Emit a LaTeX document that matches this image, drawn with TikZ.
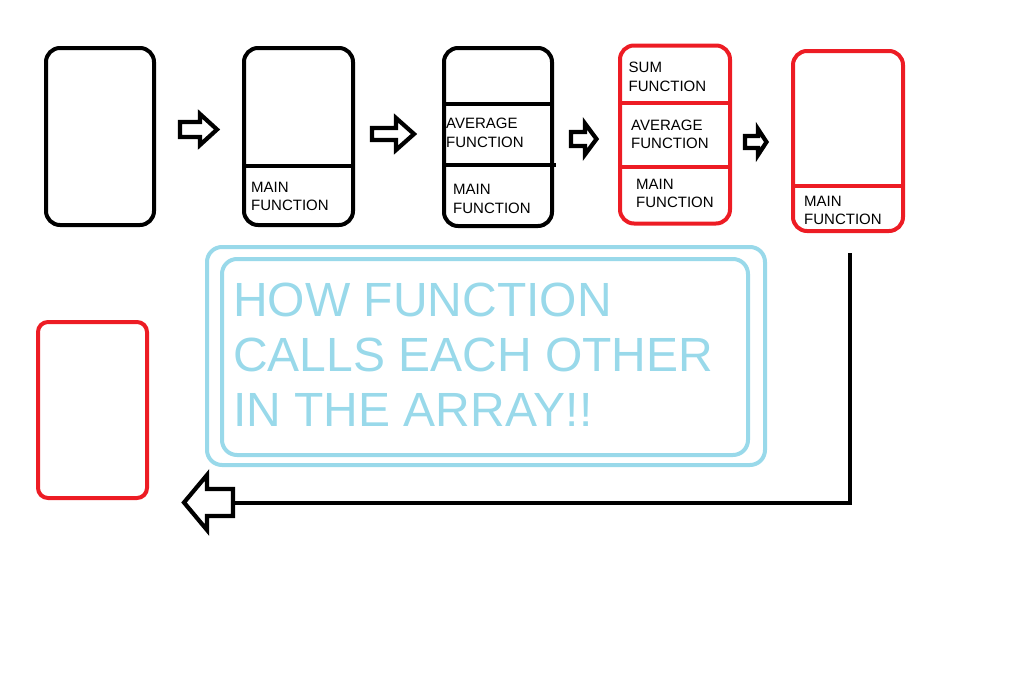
\documentclass[tikz,border=0pt]{standalone}
\usepackage{fontspec}
\setmainfont{Liberation Sans}
\definecolor{paintred}{HTML}{ED1C24}
\definecolor{paintblue}{HTML}{99D9EA}
\tikzset{
	stackbox/.style={draw, line width=4pt, rounded corners=14pt, inner sep=0pt},
	callbox/.style={stackbox, draw=paintred},
	stackline/.style={line width=4pt},
	callline/.style={line width=4pt, paintred},
	fname/.style={anchor=north west, align=left, inner sep=0pt, font=\fontsize{15}{18.5}\selectfont},
	banner/.style={draw=paintblue, line width=4pt, rounded corners=15pt, inner sep=0pt},
	blockarr/.style={line width=4.2pt},
	link/.style={line width=4pt}
}
\newcommand{\blockarrow}[6]{%
	\draw[blockarr] (#1,{#4-#5}) -- (#2,{#4-#5}) -- (#2,{#4-#6}) -- (#3,#4) -- (#2,{#4+#6}) -- (#2,{#4+#5}) -- (#1,{#4+#5}) -- cycle;}
\begin{document}
\begin{tikzpicture}[x=1pt, y=-1pt]
	\useasboundingbox (0,0) rectangle (1018,697);
	\node[stackbox, minimum width=108pt, minimum height=177pt] (stackempty) at (100,136.5) {};
	\node[stackbox, minimum width=109pt, minimum height=177pt] (stackmain) at (298.5,136.5) {};
	\node[stackbox, minimum width=108pt, minimum height=178pt] (stackavg) at (498,137) {};
	\node[callbox, minimum width=110pt, minimum height=178pt] (stacksum) at (675,134.5) {};
	\node[callbox, minimum width=110pt, minimum height=180pt] (stackback) at (848,141) {};
	\node[callbox, rounded corners=10pt, minimum width=109pt, minimum height=176pt] (stackend) at (92.5,410) {};
	\draw[stackline] (stackmain.west |- 0,166) -- (stackmain.east |- 0,166);
	\draw[stackline] (stackavg.west |- 0,104) -- (stackavg.east |- 0,104);
	\draw[stackline] (stackavg.west |- 0,165) -- ([xshift=2pt]stackavg.east |- 0,165);
	\draw[callline] (stacksum.west |- 0,102.5) -- (stacksum.east |- 0,102.5);
	\draw[callline] (stacksum.west |- 0,166.5) -- (stacksum.east |- 0,166.5);
	\draw[callline] (stackback.west |- 0,186) -- (stackback.east |- 0,186);
	\node[fname] (mainlbla) at (251,181.5) {MAIN\\FUNCTION};
	\node[fname] (avglbla) at (446,118) {AVERAGE\\FUNCTION};
	\node[fname] (mainlblb) at (453,184) {MAIN\\FUNCTION};
	\node[fname] (sumlbl) at (628.5,62) {SUM\\FUNCTION};
	\node[fname] (avglblb) at (631,119.5) {AVERAGE\\FUNCTION};
	\node[fname] (mainlblc) at (636,178.5) {MAIN\\FUNCTION};
	\node[fname] (mainlbld) at (804,195.5) {MAIN\\FUNCTION};
	\blockarrow{180}{200}{217}{129.5}{7.5}{15.5}
	\blockarrow{372}{396}{414}{134}{6}{16}
	\blockarrow{571}{585}{596.5}{139}{7}{15.5}
	\blockarrow{745}{758}{766.5}{142}{6}{13}
	\blockarrow{233}{207}{184}{502.5}{13.5}{27.5}
	\coordinate (backtail) at (233,502.5);
	\draw[link] (stackback.south) ++(2,20) |- (backtail);
	\node[banner, minimum width=558pt, minimum height=218pt] (outerframe) at (486,356) {};
	\node[banner, minimum width=526pt, minimum height=196pt] (innerframe) at (485,357) {};
	\node[anchor=north west, align=left, inner sep=0pt, text=paintblue, font=\fontsize{48}{55}\selectfont] (title) at (233,283) {HOW FUNCTION\\CALLS EACH OTHER\\IN THE ARRAY!!};
\end{tikzpicture}
\end{document}
